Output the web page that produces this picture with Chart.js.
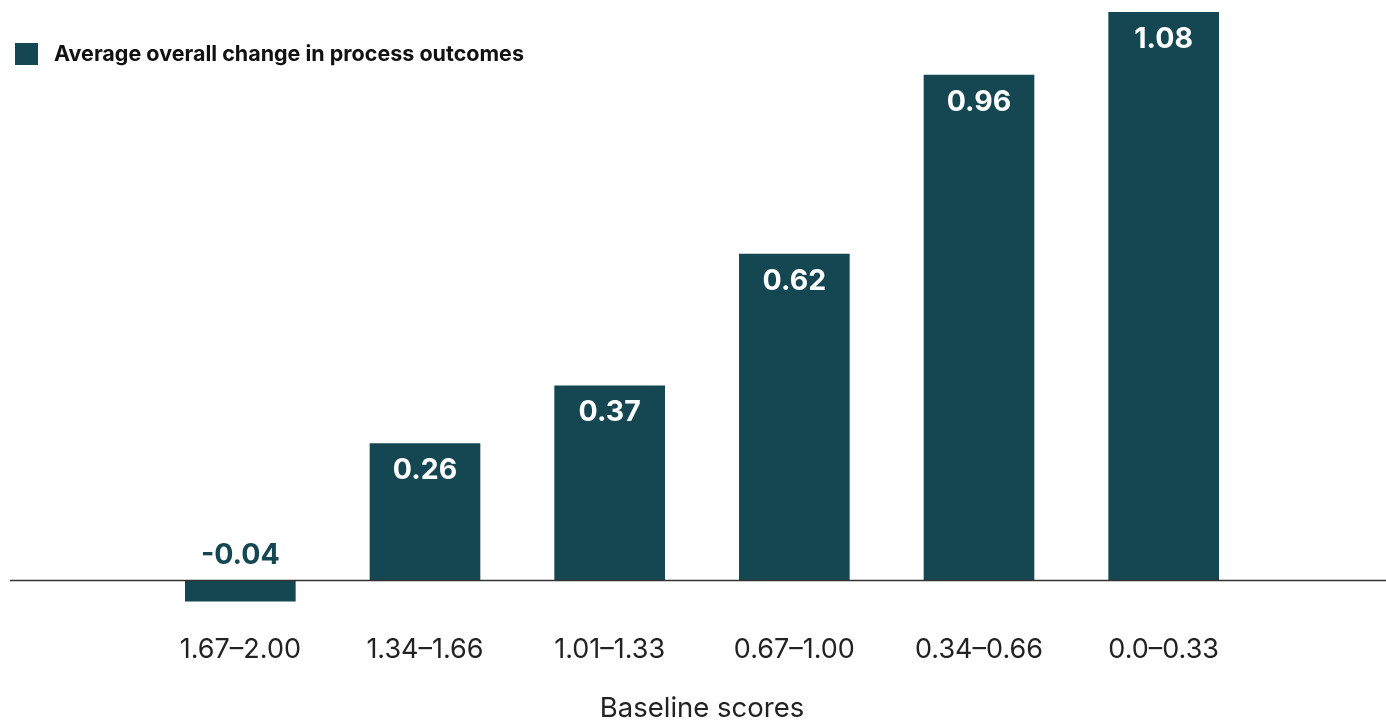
<!DOCTYPE html>
<html>
<head>
<meta charset="utf-8">
<script src="https://cdn.jsdelivr.net/npm/chart.js@4"></script>
<style>
  html, body { margin: 0; padding: 0; background: #fff; }
  #wrap { width: 1386px; height: 720px; position: relative; }
</style>
</head>
<body>
<div id="wrap"><canvas id="chart"></canvas></div>
<script>
const categories = ["1.67\u20132.00", "1.34\u20131.66", "1.01\u20131.33", "0.67\u20131.00", "0.34\u20130.66", "0.0\u20130.33"];
const values = [-0.04, 0.26, 0.37, 0.62, 0.96, 1.08];
const seriesName = "Average overall change in process outcomes";
const axisTitle = "Baseline scores";

const barColor = "#144752";

// zero line across the full width, legend in the top-left corner, value labels
const extras = {
    id: "extras",
    afterDatasetsDraw(chart) {
        let ctx = chart.ctx;
        let y0 = chart.scales.y.getPixelForValue(0);
        ctx.save();
        ctx.strokeStyle = "#333";
        ctx.lineWidth = 1.5;
        ctx.beginPath();
        ctx.moveTo(10, y0);
        ctx.lineTo(chart.width, y0);
        ctx.stroke();

        // value labels
        let meta = chart.getDatasetMeta(0);
        ctx.font = "bold 28.5px Inter, 'Open Sans', sans-serif";
        ctx.textAlign = "center";
        ctx.textBaseline = "middle";
        meta.data.forEach((bar, i) => {
            let v = values[i];
            if (v >= 0) {
                ctx.fillStyle = "#fff";
                ctx.fillText(v.toFixed(2), bar.x, bar.y + 27);
            } else {
                ctx.fillStyle = barColor;
                ctx.fillText(v.toFixed(2), bar.x, y0 - 25);
            }
        });

        // legend
        ctx.fillStyle = barColor;
        ctx.fillRect(15, 43, 23, 22);
        ctx.fillStyle = "#111";
        ctx.font = "bold 21.5px Inter, 'Open Sans', sans-serif";
        ctx.textAlign = "left";
        ctx.fillText(seriesName, 54, 55);
        ctx.restore();
    }
};

new Chart(document.getElementById("chart"), {
    type: "bar",
    data: {
        labels: categories,
        datasets: [{
            label: seriesName,
            data: values,
            backgroundColor: barColor,
            borderWidth: 0,
            barThickness: 110
        }]
    },
    options: {
        responsive: true,
        maintainAspectRatio: false,
        animation: false,
        layout: { padding: { left: 148, right: 130, top: 12, bottom: 0 } },
        plugins: {
            legend: { display: false },
            tooltip: { enabled: false }
        },
        scales: {
            y: {
                display: false,
                min: -0.04,
                max: 1.08
            },
            x: {
                grid: { display: false },
                border: { display: false },
                ticks: {
                    color: "#222",
                    font: { family: "Inter, 'Open Sans', sans-serif", size: 27 },
                    padding: 24,
                    maxRotation: 0
                },
                title: {
                    display: true,
                    text: axisTitle,
                    color: "#222",
                    font: { family: "Inter, 'Open Sans', sans-serif", size: 27.5, lineHeight: 0.8 },
                    padding: { top: 8, bottom: 0 }
                }
            }
        }
    },
    plugins: [extras]
});
</script>
</body>
</html>
